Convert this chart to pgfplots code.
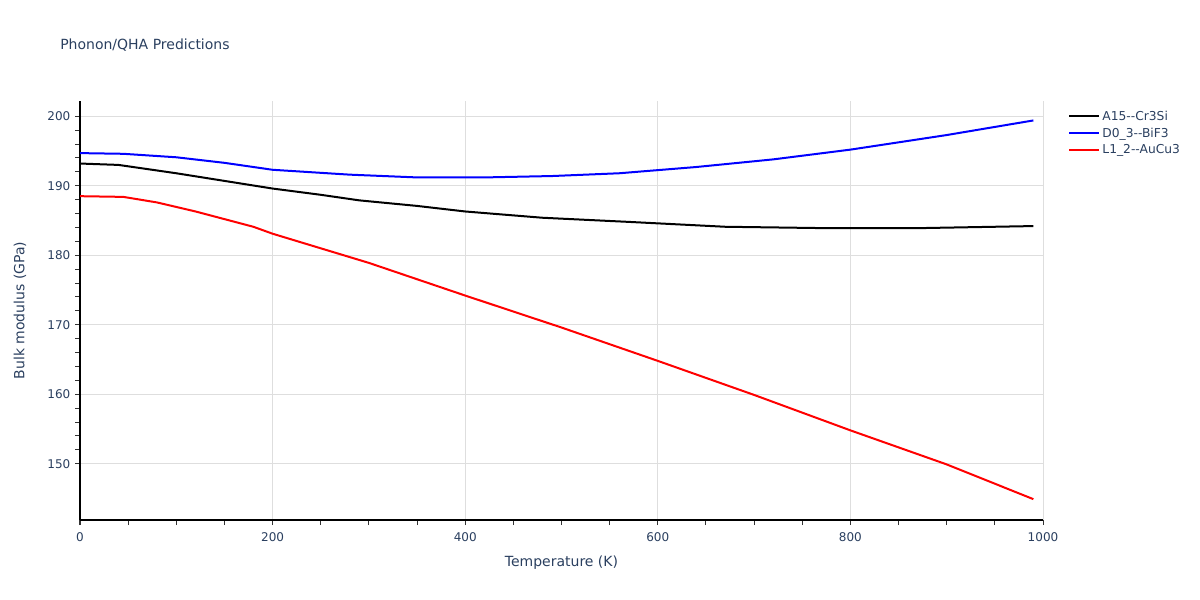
\documentclass[border=0pt]{standalone}
\usepackage{fontspec}
\setmainfont{DejaVu Sans}
\usepackage{pgfplots}
\pgfplotsset{compat=1.18}
\definecolor{txt}{HTML}{2A3F5F}
\definecolor{gridc}{HTML}{DEDEDE}
\begin{document}
\begin{tikzpicture}[x=0.75pt,y=0.75pt]
\useasboundingbox (0,0) rectangle (1200,600);
\node[anchor=west, text=txt, font=\fontsize{10.5}{13}\selectfont, inner sep=0pt] at (60,555) {Phonon/QHA Predictions};
\begin{axis}[
  at={(60pt,60pt)}, anchor=south west,
  scale only axis, width=722.25pt, height=314.25pt,
  xmin=0, xmax=1000, ymin=141.9, ymax=202.2,
  axis x line*=bottom, axis y line*=left,
  axis line style={black, line width=0.9pt},
  xtick={0,200,...,1000}, ytick={150,160,...,200},
  minor x tick num=3, minor y tick num=4,
  tick align=outside, major tick length=3.75pt, minor tick length=3.75pt,
  tick style={black!80, line width=0.75pt},
  xmajorgrids, ymajorgrids,
  major grid style={gridc, line width=0.75pt},
  /pgf/number format/assume math mode=true,
  /pgf/number format/1000 sep={},
  ticklabel style={text=txt, font=\fontsize{9}{11}\selectfont},
  xticklabel style={yshift=-2.5pt},
  xlabel={Temperature (K)}, ylabel={Bulk modulus (GPa)},
  label style={text=txt, font=\fontsize{10.5}{13}\selectfont},
  xlabel style={at={(axis description cs:0.5,0)}, anchor=center, yshift=-32.25pt},
  ylabel style={at={(axis description cs:0,0.5)}, anchor=center, rotate=0, yshift=45pt},
  legend cell align=left,
  legend style={at={(1.022,0.99)}, anchor=north west, draw=none, fill=none,
    font=\fontsize{9.2}{11}\selectfont, text=txt, row sep=0.3pt},
  legend image code/.code={\draw[#1] (0pt,0pt) -- (22pt,0pt);},
  every axis plot/.append style={line width=1.5pt},
]
\addplot[black] coordinates {
(0,193.2) (40,193.0) (100,191.8) (150,190.7) (200,189.6) (250,188.7) (290,187.9) (350,187.1) (400,186.3) (480,185.4) (570,184.8) (670,184.1) (775,183.9) (870,183.9) (990,184.2)
};
\addlegendentry{A15-{}-Cr3Si}
\addplot[blue] coordinates {
(0,194.7) (45,194.6) (100,194.1) (150,193.3) (200,192.3) (280,191.6) (350,191.2) (420,191.2) (490,191.4) (560,191.8) (640,192.7) (720,193.8) (800,195.2) (900,197.3) (990,199.4)
};
\addlegendentry{D0\_3-{}-BiF3}
\addplot[red] coordinates {
(0,188.5) (45,188.4) (80,187.6) (120,186.3) (180,184.1) (200,183.1) (300,178.9) (400,174.2) (500,169.6) (600,164.8) (700,159.9) (800,154.8) (900,149.9) (990,144.9)
};
\addlegendentry{L1\_2-{}-AuCu3}
\end{axis}
\end{tikzpicture}
\end{document}
